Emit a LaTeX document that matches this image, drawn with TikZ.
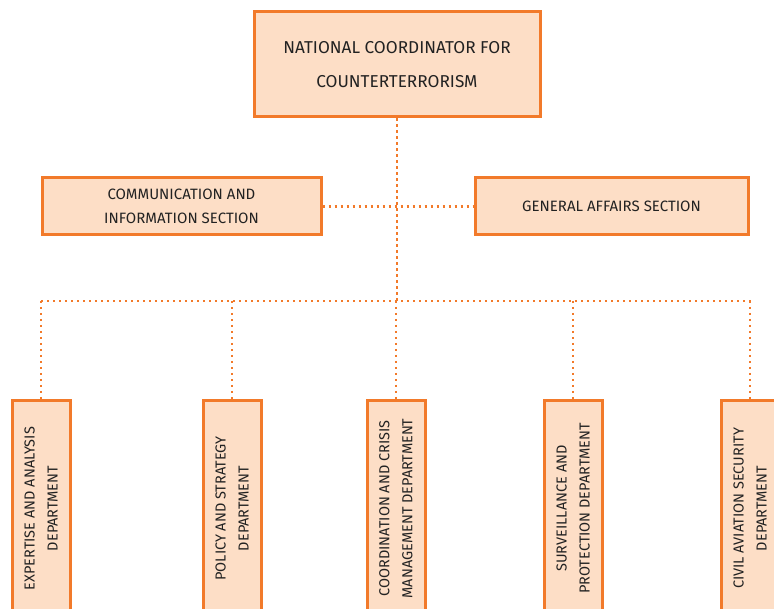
\documentclass[tikz,border=0pt]{standalone}
\usepackage{fontspec}
\setmainfont{Fira Sans}
\definecolor{boxfill}{HTML}{FDDEC6}
\definecolor{boxline}{HTML}{F27A2A}
\definecolor{txt}{HTML}{222222}
\tikzset{
  orgbox/.style={draw=boxline, fill=boxfill, line width=3pt, inner sep=0pt, text=txt, align=center},
  deptbox/.style={orgbox, minimum width=58pt, minimum height=215pt},
  depttext/.style={rotate=90, align=center, text=txt, inner sep=0pt, font=\fontsize{14.5}{23}\selectfont},
  link/.style={draw=boxline, line width=2.6pt, dash pattern=on 2.4pt off 3.6pt}
}
\begin{document}
\begin{tikzpicture}[x=1pt,y=1pt]
\useasboundingbox (0,0) rectangle (774,-609);
\clip (0,0) rectangle (774,-609);
% top
\node[orgbox, minimum width=286pt, minimum height=105pt, font=\fontsize{17.2}{34}\selectfont] (top) at (397,-64.5) {NATIONAL COORDINATOR FOR\\COUNTERTERRORISM};
\node[orgbox, minimum width=279pt, minimum height=57pt, font=\fontsize{15}{24}\selectfont] (cis) at (181.5,-206.5) {COMMUNICATION AND\\INFORMATION SECTION};
\node[orgbox, minimum width=273pt, minimum height=57pt, font=\fontsize{15}{24}\selectfont] (gas) at (611.5,-206.5) {GENERAL AFFAIRS SECTION};
% departments
\node[deptbox] (d1) at (41,-508.5) {};
\node[deptbox] (d2) at (232,-508.5) {};
\node[deptbox] (d3) at (396,-508.5) {};
\node[deptbox] (d4) at (573,-508.5) {};
\node[deptbox] (d5) at (750,-508.5) {};
\node[depttext] (t1) at (d1.center) {EXPERTISE AND ANALYSIS\\DEPARTMENT};
\node[depttext] (t2) at (d2.center) {POLICY AND STRATEGY\\DEPARTMENT};
\node[depttext] (t3) at (d3.center) {COORDINATION AND CRISIS\\MANAGEMENT DEPARTMENT};
\node[depttext] (t4) at (d4.center) {SURVEILLANCE AND\\PROTECTION DEPARTMENT};
\node[depttext] (t5) at (d5.center) {CIVIL AVIATION SECURITY\\DEPARTMENT};
% connectors
\coordinate (hub) at (397,-301);
\coordinate (b1) at (41,-301);
\coordinate (b5) at (751,-301);
\draw[link] (top.south) -- (hub);
\draw[link] (cis.east) -- (gas.west);
\draw[link] (b1) -- (b5);
\foreach \d in {d1,d2,d3,d4,d5} {
  \draw[link] (\d.north |- hub) -- (\d.north);
}
\end{tikzpicture}
\end{document}
